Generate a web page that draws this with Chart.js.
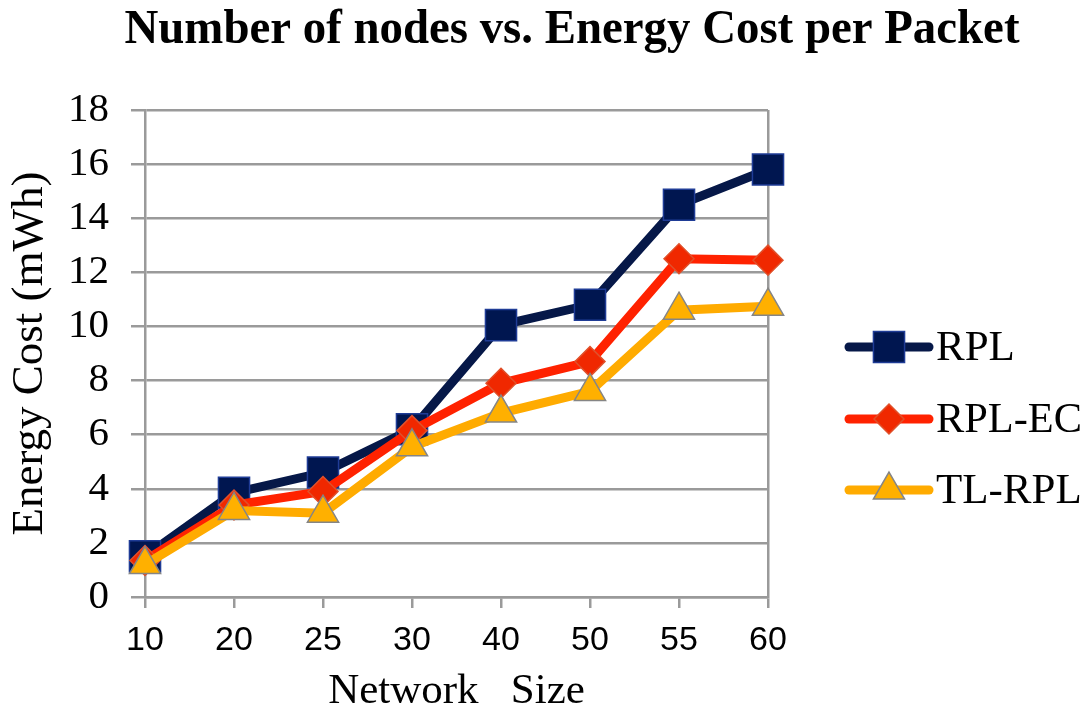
<!DOCTYPE html>
<html>
<head>
<meta charset="utf-8">
<script src="https://cdn.jsdelivr.net/npm/chart.js@4.4.1/dist/chart.umd.min.js"></script>
<style>
  html, body { margin: 0; padding: 0; background: #fff; overflow: hidden; }
</style>
</head>
<body>
<canvas id="myChart" width="1090" height="721"></canvas>
<script>
const ctx = document.getElementById('myChart').getContext('2d');

// values
const networkSizes = ['10', '20', '25', '30', '40', '50', '55', '60'];
const rplCost = [1.5, 3.85, 4.6, 6.2, 10.05, 10.8, 14.5, 15.8];
const rplEcCost = [1.35, 3.4, 3.9, 6.15, 7.9, 8.7, 12.5, 12.45];
const tlRplCost = [1.2, 3.2, 3.1, 5.55, 6.8, 7.6, 10.6, 10.75];
const yTicks = [0, 2, 4, 6, 8, 10, 12, 14, 16, 18];

const chartTitle = 'Number of nodes vs. Energy Cost per Packet';
const gridColor = '#9a9a9a';
const serif = '"Liberation Serif", "Times New Roman", serif';
const sans = '"Liberation Sans", Arial, sans-serif';

// title drawn over the whole canvas width (chart area is offset by the legend)
const titlePlugin = {
    id: 'bigTitle',
    afterDraw(chart) {
        const c = chart.ctx;
        c.save();
        c.fillStyle = '#000';
        c.font = 'bold 48px ' + serif;
        c.textAlign = 'center';
        c.textBaseline = 'middle';
        c.fillText(chartTitle, 572, 31, 895);
        c.restore();
    }
};

// legend: short line with the marker in the middle, like the office chart
const sideLegend = {
    id: 'sideLegend',
    afterDraw(chart) {
        const c = chart.ctx;
        const rows = { 'RPL': 347, 'RPL-EC': 419, 'TL-RPL': 490 };
        chart.data.datasets.forEach((ds) => {
            const y = rows[ds.label];
            c.save();
            c.strokeStyle = ds.borderColor;
            c.lineWidth = 9;
            c.lineCap = 'round';
            c.beginPath();
            c.moveTo(849, y);
            c.lineTo(929, y);
            c.stroke();
            c.fillStyle = ds.pointBackgroundColor;
            c.strokeStyle = ds.pointBorderColor;
            c.lineWidth = ds.pointBorderWidth;
            Chart.helpers.drawPoint(c, {
                pointStyle: ds.pointStyle,
                radius: ds.pointRadius,
                borderWidth: ds.pointBorderWidth,
                rotation: 0
            }, 889, y);
            c.fillStyle = '#000';
            c.font = '43px ' + serif;
            c.textAlign = 'left';
            c.textBaseline = 'middle';
            c.fillText(ds.label, 936, y + 2, 146);
            c.restore();
        });
    }
};

new Chart(ctx, {
    type: 'line',
    data: {
        labels: networkSizes,
        datasets: [{
            label: 'TL-RPL',
            data: tlRplCost,
            borderColor: '#ffab00',
            borderWidth: 9,
            pointStyle: 'triangle',
            pointRadius: 18,
            pointBackgroundColor: '#ffb000',
            pointBorderColor: '#858585',
            pointBorderWidth: 1.5,
            order: 1
        }, {
            label: 'RPL-EC',
            data: rplEcCost,
            borderColor: '#ff2200',
            borderWidth: 9,
            pointStyle: 'rectRot',
            pointRadius: 15,
            pointBackgroundColor: '#f02800',
            pointBorderColor: '#e0502a',
            pointBorderWidth: 1.5,
            order: 2
        }, {
            label: 'RPL',
            data: rplCost,
            borderColor: '#061848',
            borderWidth: 9,
            pointStyle: 'rect',
            pointRadius: 22,
            pointBackgroundColor: '#001650',
            pointBorderColor: '#1f3c96',
            pointBorderWidth: 1.5,
            order: 3
        }]
    },
    options: {
        responsive: false,
        animation: false,
        layout: {
            padding: { top: 110, right: 322, left: 0, bottom: 0 }
        },
        plugins: {
            legend: { display: false },
            title: { display: false },
            tooltip: { enabled: false }
        },
        scales: {
            x: {
                offset: false,
                afterFit(scale) { scale.height = 124; },
                grid: {
                    color: (c) => c.index === networkSizes.length - 1 ? gridColor : 'transparent',
                    tickColor: gridColor,
                    lineWidth: 2.5,
                    tickLength: 11
                },
                border: { color: gridColor, width: 2.5 },
                ticks: {
                    color: '#000',
                    font: { family: sans, size: 34 },
                    padding: 12
                },
                title: {
                    display: true,
                    text: 'Network   Size',
                    color: '#000',
                    font: { family: serif, size: 43 },
                    padding: { top: 0, bottom: 3 }
                }
            },
            y: {
                min: 0,
                max: 18,
                afterFit(scale) { scale.width = 145; },
                afterBuildTicks(scale) { scale.ticks = yTicks.map(v => ({ value: v })); },
                grid: {
                    color: gridColor,
                    lineWidth: 2.5,
                    tickLength: 14
                },
                border: { color: gridColor, width: 2.5 },
                ticks: {
                    color: '#000',
                    font: { family: serif, size: 41 },
                    padding: 22
                },
                title: {
                    display: true,
                    text: 'Energy Cost (mWh)',
                    color: '#000',
                    font: { family: serif, size: 45 },
                    padding: { top: 3, bottom: 0 }
                }
            }
        }
    },
    plugins: [titlePlugin, sideLegend]
});
</script>
</body>
</html>
